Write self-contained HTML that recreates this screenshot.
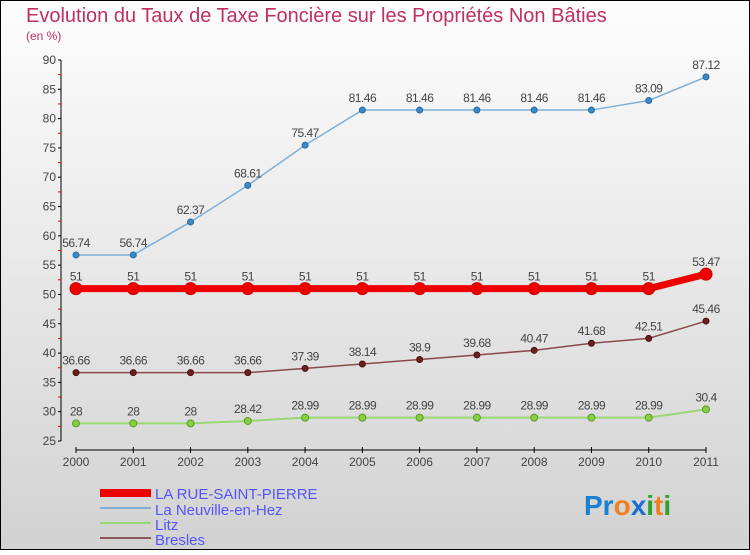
<!DOCTYPE html>
<html><head><meta charset="utf-8"><style>
body{margin:0}
svg text{font-family:"Liberation Sans",sans-serif}
</style></head><body>
<svg width="750" height="550" xmlns="http://www.w3.org/2000/svg">
<defs><linearGradient id="bg" x1="0" y1="0" x2="0" y2="1"><stop offset="0" stop-color="#fdfdfd"/><stop offset="1" stop-color="#d2d2d2"/></linearGradient></defs>
<rect x="0.5" y="0.5" width="749" height="549" fill="url(#bg)" stroke="#000"/>
<text x="26" y="22" font-size="20" fill="#c0305e">Evolution du Taux de Taxe Foncière sur les Propriétés Non Bâties</text>
<text x="26" y="40" font-size="12" fill="#c0305e">(en %)</text>
<g id="axes"></g>
<g id="series"></g>
<g>
<rect x="100" y="489" width="51" height="8" fill="#e00"/>
<text x="155" y="499" font-size="15" fill="#5555ff">LA RUE-SAINT-PIERRE</text>
<rect x="100" y="507" width="51" height="2" fill="#7fb0d8"/>
<text x="155" y="515" font-size="15" fill="#5555ff">La Neuville-en-Hez</text>
<rect x="100" y="522" width="51" height="2" fill="#98d870"/>
<text x="155" y="530" font-size="15" fill="#5555ff">Litz</text>
<rect x="100" y="537" width="51" height="2" fill="#8a5a5a"/>
<text x="155" y="545" font-size="15" fill="#5555ff">Bresles</text>
</g>
<text x="584" y="515" font-size="28" font-weight="bold"><tspan fill="#1a7fd0">Pr</tspan><tspan fill="#f08020">o</tspan><tspan fill="#1a6fd0">x</tspan><tspan fill="#30a030">i</tspan><tspan fill="#f08020">t</tspan><tspan fill="#30a030">i</tspan></text>
</svg>
<script>
const years=["2000","2001","2002","2003","2004","2005","2006","2007","2008","2009","2010","2011"];
const yTicks=[25,30,35,40,45,50,55,60,65,70,75,80,85,90];
const rueValues=[51,51,51,51,51,51,51,51,51,51,51,53.47];
const neuvilleValues=[56.74,56.74,62.37,68.61,75.47,81.46,81.46,81.46,81.46,81.46,83.09,87.12];
const litzValues=[28,28,28,28.42,28.99,28.99,28.99,28.99,28.99,28.99,28.99,30.4];
const breslesValues=[36.66,36.66,36.66,36.66,37.39,38.14,38.9,39.68,40.47,41.68,42.51,45.46];
const NS="http://www.w3.org/2000/svg";
const xOf=i=>76+i*(630/11);
const yOf=v=>441-(v-25)*(381/65);
function mk(tag,attrs,parent){const e=document.createElementNS(NS,tag);for(const k in attrs)e.setAttribute(k,attrs[k]);parent.appendChild(e);return e;}
const ax=document.getElementById('axes');
let l=mk('line',{x1:61,y1:yOf(90),x2:61,y2:yOf(25),stroke:'#000'},ax);


l=mk('line',{x1:76,y1:450,x2:706,y2:450,stroke:'#000'},ax);


yTicks.forEach((t,i)=>{
  mk('line',{x1:58,x2:61,y1:yOf(t),y2:yOf(t),stroke:'#000'},ax);
  if(i<yTicks.length-1)mk('line',{x1:58,x2:61,y1:yOf(t+2.5),y2:yOf(t+2.5),stroke:'#e00'},ax);
  const tx=mk('text',{x:56,y:yOf(t)+4,'font-size':12,'text-anchor':'end',fill:'#444'},ax);
  tx.textContent=t;
  
  
});
years.forEach((y,i)=>{
  mk('line',{x1:xOf(i),x2:xOf(i),y1:447,y2:453,stroke:'#000'},ax);
  const tx=mk('text',{x:xOf(i),y:466,'font-size':12,'text-anchor':'middle',fill:'#444'},ax);
  tx.textContent=y;
  
  
});
const sg=document.getElementById('series');
function series(vals,name,color,w,r,fill,stroke){
  const g=mk('g',{},sg);
  
  
  const p=mk('polyline',{points:vals.map((v,i)=>xOf(i)+','+yOf(v)).join(' '),fill:'none',stroke:color,'stroke-width':w},g);
  
  
  vals.forEach((v,i)=>{
    const c=mk('circle',{cx:xOf(i),cy:yOf(v),r:r,fill:fill,stroke:stroke},g);
    
    
    const t=mk('text',{x:xOf(i),y:yOf(v)-8,'font-size':12,'text-anchor':'middle',fill:'#444','letter-spacing':'-0.5'},g);
    t.textContent=String(v);
    
    
  });
}
series(litzValues,'litz','#98d870',2,3.5,'#88d040','#5a9a30');
series(breslesValues,'bresles','#8a4a4a',1.5,3,'#6a2020','#501010');
series(neuvilleValues,'neuville','#7fb0d8',1.5,3,'#3a8ac8','#2a6aa0');
series(rueValues,'rue','#ee0000',7,6,'#ee0000','#cc0000');
</script>
</body></html>
